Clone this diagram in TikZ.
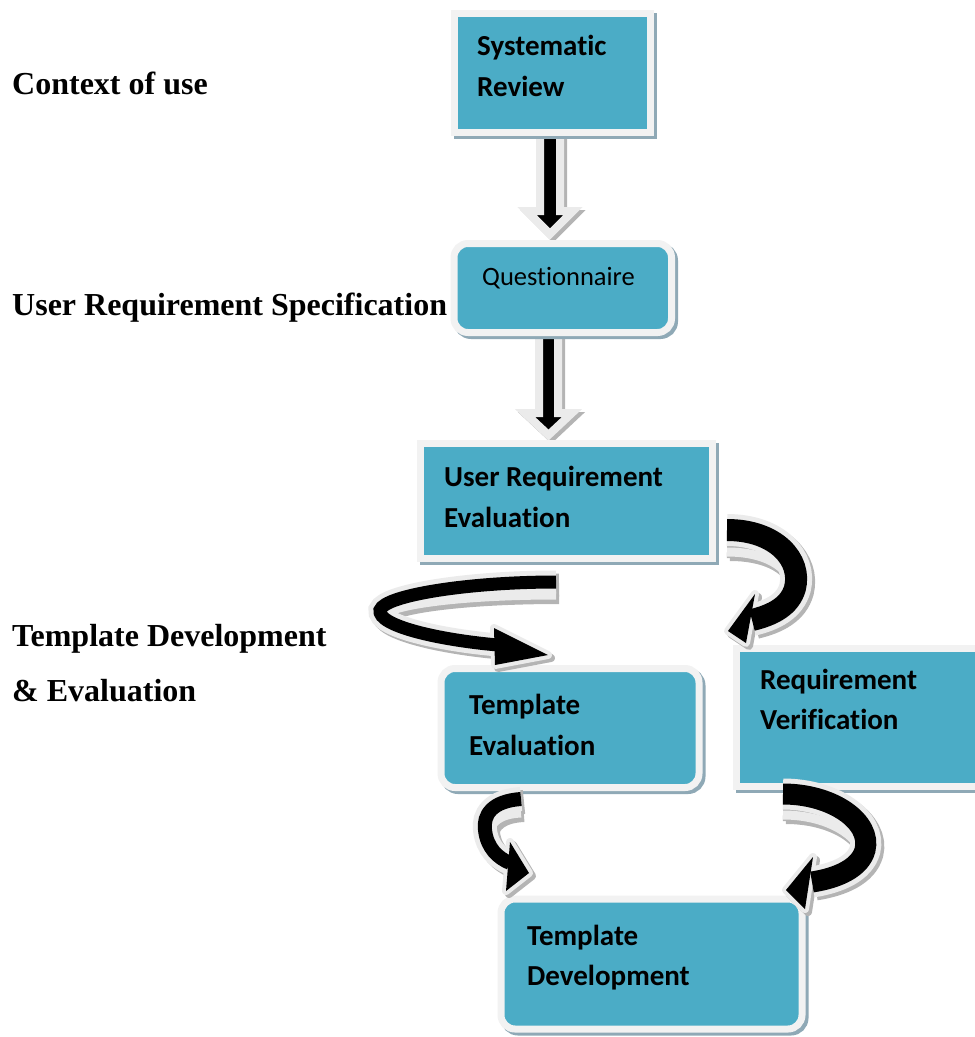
\documentclass[tikz,border=0pt]{standalone}
\usepackage{fontspec}
\setmainfont{Liberation Serif}
\newfontfamily\boxfont[Ligatures=NoCommon]{Carlito}
\definecolor{teal1}{HTML}{4BACC6}
\definecolor{rim}{HTML}{F2F2F2}
\definecolor{boxshade}{HTML}{8FA9B6}
\definecolor{arrrim}{HTML}{EBEBEB}
\definecolor{arrshade}{HTML}{B4B4B4}
\newcommand\curvedarrow[6]{%
  \begin{scope}[transform canvas={shift={(3,3)}}]
    \draw[arrshade, line width=#2+10] #1;
    \draw[arrshade, line width=12] #6;
    \filldraw[arrshade, line width=8, line join=round] #4 -- #3 -- #5 -- cycle;
  \end{scope}
  \draw[arrshade, line width=12] #6;
  \draw[arrrim, line width=9] #6;
  \draw[arrrim, line width=#2+10] #1;
  \filldraw[arrrim, line width=8, line join=round] #4 -- #3 -- #5 -- cycle;
  \draw[black, line width=#2] #1;
  \fill[black] #4 -- #3 -- #5 -- cycle;
}
\begin{document}
\begin{tikzpicture}[x=1pt,y=-1pt,
  sqbox/.style={draw=rim, fill=teal1, line width=7pt, inner sep=0pt,
    preaction={draw=boxshade, line width=7pt, transform canvas={shift={(3,3)}}}},
  rdbox/.style={sqbox, rounded corners=14pt},
  boxtext/.style={anchor=base west, inner sep=0pt, font=\boxfont\bfseries\fontsize{29}{34}\selectfont},
  boxtextreg/.style={anchor=base west, inner sep=0pt, font=\boxfont\fontsize{26.5}{32}\selectfont},
  sidelabel/.style={anchor=base west, inner sep=0pt, font=\bfseries\fontsize{32}{38}\selectfont},
  blockarr/.style={fill=black, draw=arrrim, line width=8pt, line join=miter,
    preaction={fill=arrshade, draw=arrshade, line width=8pt, transform canvas={shift={(3,3)}}}}]
\useasboundingbox (0,0) rectangle (975,1037);
\clip (0,0) rectangle (975,1037);

% straight block arrows (drawn below the boxes)
\draw[blockarr] (540,130) -- (560,130) -- (560,211) -- (573,211) -- (550,234) -- (527,211) -- (540,211) -- cycle;
\draw[blockarr] (539,332) -- (558,332) -- (558,413) -- (572,413) -- (548.5,435) -- (525,413) -- (539,413) -- cycle;

% boxes
\node[sqbox, minimum width=196.5pt, minimum height=118.5pt] (sr) at (552.25,72.75) {};
\node[rdbox, minimum width=217.5pt, minimum height=89pt] (q) at (562.75,288) {};
\node[sqbox, minimum width=292.5pt, minimum height=114.5pt] (ure) at (566.25,500.75) {};
\node[rdbox, minimum width=258pt, minimum height=119pt] (te) at (570,728) {};
\node[sqbox, minimum width=263.5pt, minimum height=137.5pt] (rv) at (868.25,717.25) {};
\node[rdbox, minimum width=301pt, minimum height=130pt] (td) at (651.5,964) {};

% curved arrows
% URE -> RV
\curvedarrow{(727,530) .. controls (776,530) and (802,560) .. (795,588) .. controls (790,606) and (773,615) .. (752,620)}{22}{(728,631)}{(755,594)}{(746,643)}{(727,552) .. controls (772,552) and (793,572) .. (794,592)}
% URE -> TE
\curvedarrow{(556,582) .. controls (470,582) and (385,595) .. (380,610) .. controls (377,626) and (440,640) .. (498,645)}{13}{(548,655)}{(494,628)}{(495,665)}{(556,595) .. controls (470,595) and (400,603) .. (384,614)}
% TE -> TD
\curvedarrow{(521,799) .. controls (492,801) and (483,815) .. (485,830) .. controls (487,848) and (498,858) .. (510,863)}{14}{(529,873)}{(510,842)}{(506,891)}{(521,813) .. controls (500,814) and (490,822) .. (489,835)}
% RV -> TD
\curvedarrow{(783,794) .. controls (833,794) and (872,822) .. (865,850) .. controls (860,868) and (838,878) .. (812,882)}{21}{(786,890)}{(813,857)}{(805,909)}{(783,815) .. controls (828,815) and (859,836) .. (863,856)}

% box texts
\node[boxtext] (srt1) at (477,55) {Systematic};
\node[boxtext] (srt2) at (477,96) {Review};
\node[boxtextreg] (qt) at (482,285) {Questionnaire};
\node[boxtext] (uret1) at (444,486) {User Requirement};
\node[boxtext] (uret2) at (444,527) {Evaluation};
\node[boxtext] (tet1) at (469,714) {Template};
\node[boxtext] (tet2) at (469,755) {Evaluation};
\node[boxtext] (rvt1) at (760,689) {Requirement};
\node[boxtext] (rvt2) at (760,729) {Verification};
\node[boxtext] (tdt1) at (527,945) {Template};
\node[boxtext] (tdt2) at (527,985) {Development};

% side labels
\node[sidelabel] (l1) at (12,94) {Context of use};
\node[sidelabel] (l2) at (12,315) {User Requirement Specification};
\node[sidelabel] (l3) at (12,646) {Template Development};
\node[sidelabel] (l4) at (12,701) {\& Evaluation};
\end{tikzpicture}
\end{document}
